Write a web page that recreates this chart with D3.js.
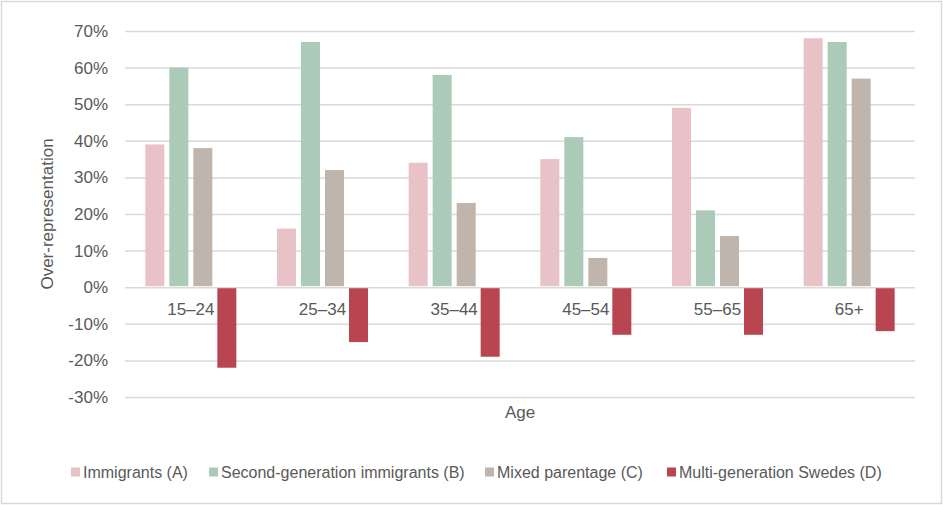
<!DOCTYPE html>
<html>
<head>
<meta charset="utf-8">
<script src="https://cdn.jsdelivr.net/npm/d3@7"></script>
<style>
  html, body { margin: 0; padding: 0; background: #fff; }
  svg { display: block; font-family: "Liberation Sans", Arial, sans-serif; }
</style>
</head>
<body>
<svg id="chart" width="943" height="505"></svg>
<script>
// Age groups
const categories = ["15–24", "25–34", "35–44", "45–54", "55–65", "65+"];
// Over-representation (%) per group
const immigrantsA = [39, 16, 34, 35, 49, 68];
const secondGenB = [60, 67, 58, 41, 21, 67];
const mixedC = [38, 32, 23, 8, 14, 57];
const multiGenD = [-22, -15, -19, -13, -13, -12];
const seriesNames = ["Immigrants (A)", "Second-generation immigrants (B)", "Mixed parentage (C)", "Multi-generation Swedes (D)"];
const seriesColors = ["#E8C2C6", "#ACCAB8", "#BFB5AC", "#B94550"];
const yTicks = [-30, -20, -10, 0, 10, 20, 30, 40, 50, 60, 70];

const series = [immigrantsA, secondGenB, mixedC, multiGenD];

const svg = d3.select("#chart");
const W = 943, H = 505;
const plot = { left: 125, right: 915, top: 31, bottom: 397 };
const textColor = "#595959";
const axisFont = 17;

// outer frame
svg.append("rect")
  .attr("x", 1.5).attr("y", 1.5).attr("width", W - 3).attr("height", H - 3)
  .attr("fill", "#fff").attr("stroke", "#d9d9d9").attr("stroke-width", 1.5);

const x = d3.scaleBand().domain(categories).range([plot.left, plot.right]);
const y = d3.scaleLinear().domain([-30, 70]).range([plot.bottom, plot.top]);

// gridlines + y labels
const yAxis = d3.axisLeft(y).tickValues(yTicks)
  .tickFormat(d => d + "%")
  .tickSize(-(plot.right - plot.left)).tickPadding(17);
const gy = svg.append("g").attr("transform", `translate(${plot.left},0)`).call(yAxis);
gy.select(".domain").remove();
gy.selectAll(".tick line").attr("stroke", "#d9d9d9").attr("stroke-width", 1.5);
gy.selectAll(".tick text").attr("fill", textColor).attr("font-size", axisFont)
  .attr("font-family", "Liberation Sans, Arial, sans-serif");

// bars: four per group, centred on each age band
const barStep = 24, barW = 19;
const groupW = barStep * series.length - (barStep - barW);
const inner = d3.scaleBand().domain(d3.range(series.length))
  .range([0, groupW]).paddingInner((barStep - barW) / barStep).paddingOuter(0);

series.forEach((vals, si) => {
  svg.append("g").selectAll("rect").data(vals).join("rect")
    .attr("x", (d, i) => x(categories[i]) + x.bandwidth() / 2 - groupW / 2 + inner(si))
    .attr("width", inner.bandwidth())
    .attr("y", d => d >= 0 ? y(d) : y(0) + 1)
    .attr("height", d => Math.abs(y(d) - y(0)) - 1)
    .attr("fill", seriesColors[si]);
});

// category labels, drawn beside the zero line
svg.append("g").selectAll("text").data(categories).join("text")
  .attr("x", d => x(d) + x.bandwidth() / 2)
  .attr("y", y(0) + 28)
  .attr("text-anchor", "middle")
  .attr("fill", textColor).attr("font-size", axisFont)
  .text(d => d);

// axis titles
svg.append("text")
  .attr("transform", `translate(53,${(plot.top + plot.bottom) / 2}) rotate(-90)`)
  .attr("text-anchor", "middle").attr("fill", textColor).attr("font-size", axisFont)
  .text("Over-representation");
svg.append("text")
  .attr("x", (plot.left + plot.right) / 2).attr("y", 418)
  .attr("text-anchor", "middle").attr("fill", textColor).attr("font-size", axisFont)
  .text("Age");

// legend
const legendX = [71, 209, 485, 667];
const lg = svg.append("g").selectAll("g").data(seriesNames).join("g")
  .attr("transform", (d, i) => `translate(${legendX[i]},472)`);
lg.append("rect").attr("x", 0).attr("y", -4.5).attr("width", 9).attr("height", 9)
  .attr("fill", (d, i) => seriesColors[i]);
lg.append("text").attr("x", 12).attr("y", 0).attr("dy", "0.35em")
  .attr("fill", textColor).attr("font-size", 16).text(d => d);
</script>
</body>
</html>
